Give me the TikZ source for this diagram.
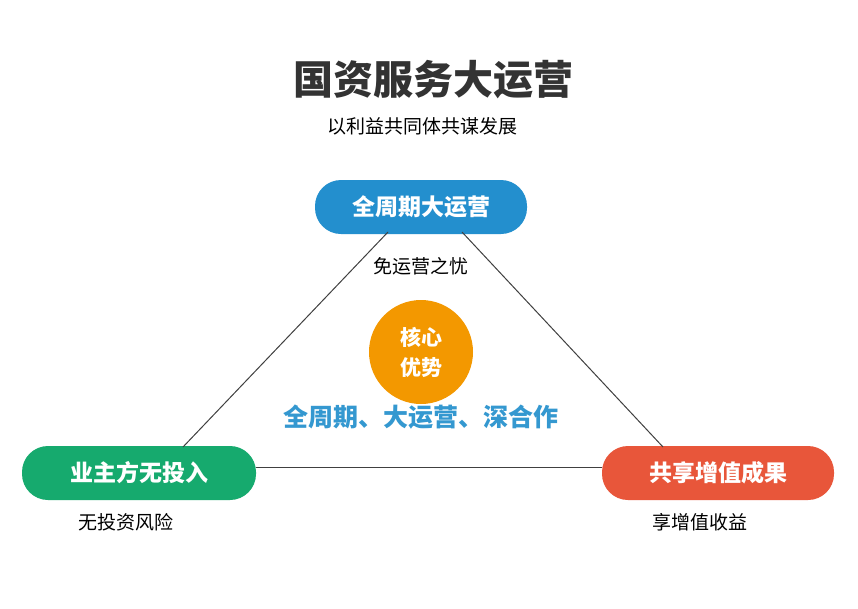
\documentclass[tikz,border=0pt]{standalone}
\usepackage{fontspec}
\setmainfont{Noto Sans CJK SC}
\begin{document}
\begin{tikzpicture}[x=1pt,y=-1pt,
  pill/.style={rounded corners=26pt,minimum height=54pt,text=white,font=\bfseries\fontsize{23}{27}\selectfont,inner sep=0pt},
  lbl/.style={font=\fontsize{19}{22}\selectfont,text=black},
  edge/.style={draw=black!75,line width=1pt}]
\useasboundingbox[fill=white] (0,0) rectangle (858,608);
\node[font=\bfseries\fontsize{40}{46}\selectfont,text=black!80] (title) at (433,80) {国资服务大运营};
\node[lbl] (sub) at (422,126) {以利益共同体共谋发展};
\node[pill,fill={rgb,255:red,35;green,143;blue,206},minimum width=212pt] (top) at (421,207) {全周期大运营};
\node[pill,fill={rgb,255:red,22;green,170;blue,110},minimum width=234pt] (left) at (139,473) {业主方无投入};
\node[pill,fill={rgb,255:red,232;green,86;blue,58},minimum width=232pt] (right) at (718,473) {共享增值成果};
\node[lbl] (tl) at (421,266) {免运营之忧};
\node[lbl] (ll) at (126,522) {无投资风险};
\node[lbl] (rl) at (700,522) {享增值收益};
\node[circle,fill={rgb,255:red,243;green,152;blue,0},minimum size=104pt,text=white,font=\bfseries\fontsize{21}{30}\selectfont,align=center] (core) at (421,352) {核心\\优势};
\node[font=\bfseries\fontsize{25}{30}\selectfont,text={rgb,255:red,52;green,152;blue,208}] (adv) at (421,417) {全周期、大运营、深合作};
\coordinate (t1) at (388,232); \coordinate (t2) at (462,232);
\coordinate (l1) at (183,447); \coordinate (r1) at (663,447);
\coordinate (h1) at (256,467); \coordinate (h2) at (602,467);
\draw[edge] (t1) -- (l1);
\draw[edge] (t2) -- (r1);
\draw[edge] (h1) -- (h2);
\end{tikzpicture}
\end{document}
